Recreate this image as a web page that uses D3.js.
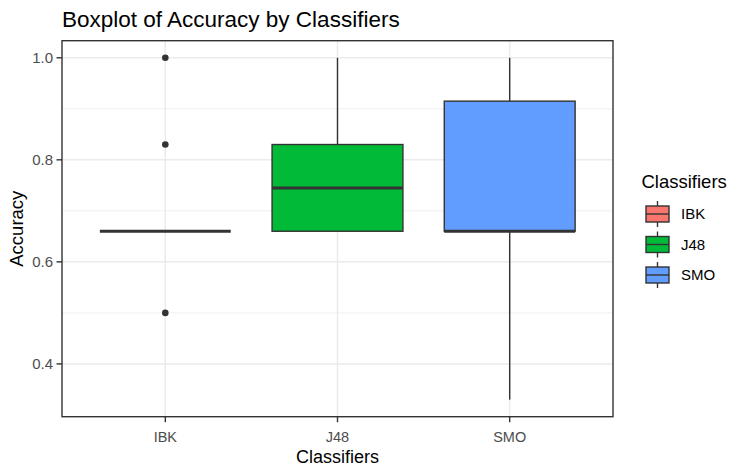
<html>
  <meta charset="utf-8" />
  <script src="https://d3js.org/d3.v7.min.js"></script>
  <style>
    body { margin: 0; background: #fff; }
    text { font-family: "Liberation Sans", Arial, sans-serif; }
  </style>
  <body>
    <svg width="732" height="468" id="svg_Box"></svg>
    <script>
      // data
      const classifiers = ["IBK", "J48", "SMO"];
      const colors = ["#F8766D", "#00BA38", "#619CFF"];
      const lowerWhisker = [0.66, 0.66, 0.33];
      const q1 = [0.66, 0.66, 0.66];
      const median = [0.66, 0.745, 0.66];
      const q3 = [0.66, 0.83, 0.915];
      const upperWhisker = [0.66, 1.0, 1.0];
      const outliers = [[1.0, 0.83, 0.5], [], []];
      const yTicks = [0.4, 0.6, 0.8, 1.0];
      const yMinor = [0.5, 0.7, 0.9];

      const pLeft = 62, pRight = 613, pTop = 40.7, pBottom = 416.7;

      const svg = d3.select("svg");

      // ggplot-like discrete expansion: 0.6 units each side
      const xScale = d3
        .scalePoint()
        .domain(classifiers)
        .range([pLeft, pRight])
        .padding(0.6);
      const boxW = xScale.step() * 0.76;

      const yScale = d3
        .scaleLinear()
        .domain([0.2965, 1.0335])
        .range([pBottom, pTop]);

      // grid
      svg.append("g").selectAll("line").data(yMinor).enter().append("line")
        .attr("x1", pLeft).attr("x2", pRight)
        .attr("y1", (d) => yScale(d)).attr("y2", (d) => yScale(d))
        .attr("stroke", "#EBEBEB").attr("stroke-width", 0.8);

      svg.append("g").selectAll("line").data(yTicks).enter().append("line")
        .attr("x1", pLeft).attr("x2", pRight)
        .attr("y1", (d) => yScale(d)).attr("y2", (d) => yScale(d))
        .attr("stroke", "#EBEBEB").attr("stroke-width", 1.5);

      svg.append("g").selectAll("line").data(classifiers).enter().append("line")
        .attr("x1", (d) => xScale(d)).attr("x2", (d) => xScale(d))
        .attr("y1", pTop).attr("y2", pBottom)
        .attr("stroke", "#EBEBEB").attr("stroke-width", 1.5);

      // boxes
      const idx = d3.range(classifiers.length);
      const box = svg.append("g").selectAll("g").data(idx).enter().append("g");

      box.append("line")
        .attr("x1", (i) => xScale(classifiers[i])).attr("x2", (i) => xScale(classifiers[i]))
        .attr("y1", (i) => yScale(upperWhisker[i])).attr("y2", (i) => yScale(q3[i]))
        .attr("stroke", "#333").attr("stroke-width", 1.4);
      box.append("line")
        .attr("x1", (i) => xScale(classifiers[i])).attr("x2", (i) => xScale(classifiers[i]))
        .attr("y1", (i) => yScale(q1[i])).attr("y2", (i) => yScale(lowerWhisker[i]))
        .attr("stroke", "#333").attr("stroke-width", 1.4);

      box.append("rect")
        .attr("x", (i) => xScale(classifiers[i]) - boxW / 2)
        .attr("width", boxW)
        .attr("y", (i) => yScale(q3[i]))
        .attr("height", (i) => yScale(q1[i]) - yScale(q3[i]))
        .attr("fill", (i) => colors[i])
        .attr("stroke", "#333").attr("stroke-width", 1.4);

      box.append("line")
        .attr("x1", (i) => xScale(classifiers[i]) - boxW / 2)
        .attr("x2", (i) => xScale(classifiers[i]) + boxW / 2)
        .attr("y1", (i) => yScale(median[i])).attr("y2", (i) => yScale(median[i]))
        .attr("stroke", "#333").attr("stroke-width", 3);

      box.selectAll("circle")
        .data((i) => outliers[i].map((v) => ({ c: classifiers[i], v: v })))
        .enter().append("circle")
        .attr("cx", (d) => xScale(d.c)).attr("cy", (d) => yScale(d.v))
        .attr("r", 3.3).attr("fill", "#333");

      // panel border
      svg.append("rect")
        .attr("x", pLeft).attr("y", pTop)
        .attr("width", pRight - pLeft).attr("height", pBottom - pTop)
        .attr("fill", "none").attr("stroke", "#333").attr("stroke-width", 1.4);

      // y axis
      const yAxis = svg.append("g");
      yAxis.selectAll("line").data(yTicks).enter().append("line")
        .attr("x1", pLeft - 5.5).attr("x2", pLeft)
        .attr("y1", (d) => yScale(d)).attr("y2", (d) => yScale(d))
        .attr("stroke", "#333").attr("stroke-width", 1.4);
      yAxis.selectAll("text").data(yTicks).enter().append("text")
        .attr("x", pLeft - 9).attr("y", (d) => yScale(d))
        .attr("dy", "0.36em").attr("text-anchor", "end")
        .attr("fill", "#4D4D4D").attr("font-size", 15)
        .text((d) => d3.format(".1f")(d));

      // x axis
      const xAxis = svg.append("g");
      xAxis.selectAll("line").data(classifiers).enter().append("line")
        .attr("x1", (d) => xScale(d)).attr("x2", (d) => xScale(d))
        .attr("y1", pBottom).attr("y2", pBottom + 5.5)
        .attr("stroke", "#333").attr("stroke-width", 1.4);
      xAxis.selectAll("text").data(classifiers).enter().append("text")
        .attr("x", (d) => xScale(d)).attr("y", 442)
        .attr("text-anchor", "middle")
        .attr("fill", "#4D4D4D").attr("font-size", 14.5)
        .text((d) => d);

      // titles
      svg.append("text")
        .attr("x", pLeft).attr("y", 27)
        .attr("font-size", 22.5).attr("fill", "#000")
        .text("Boxplot of Accuracy by Classifiers");

      svg.append("text")
        .attr("x", (pLeft + pRight) / 2).attr("y", 463)
        .attr("text-anchor", "middle")
        .attr("font-size", 18).attr("fill", "#000")
        .text("Classifiers");

      svg.append("text")
        .attr("transform", `translate(23, ${(pTop + pBottom) / 2}) rotate(-90)`)
        .attr("text-anchor", "middle")
        .attr("font-size", 18.5).attr("fill", "#000")
        .text("Accuracy");

      // legend
      const legend = svg.append("g");
      legend.append("text")
        .attr("x", 641.5).attr("y", 187.5)
        .attr("font-size", 18.5).attr("fill", "#000")
        .text("Classifiers");

      const keyY = d3.scalePoint().domain(classifiers).range([214, 275]);
      const key = legend.selectAll("g.key").data(classifiers).enter().append("g")
        .attr("class", "key")
        .attr("transform", (d) => `translate(657.5, ${keyY(d)})`);
      key.append("line")
        .attr("x1", 0).attr("x2", 0).attr("y1", -13).attr("y2", 13)
        .attr("stroke", "#333").attr("stroke-width", 1.4);
      key.append("rect")
        .attr("x", -11.5).attr("y", -8).attr("width", 23).attr("height", 16)
        .attr("fill", (d, i) => colors[i])
        .attr("stroke", "#333").attr("stroke-width", 1.4);
      key.append("line")
        .attr("x1", -11.5).attr("x2", 11.5).attr("y1", 0).attr("y2", 0)
        .attr("stroke", "#333").attr("stroke-width", 1.4);
      key.append("text")
        .attr("x", 23.5).attr("dy", "0.36em")
        .attr("font-size", 15).attr("fill", "#000")
        .text((d) => d);
    </script>
  </body>
</html>
